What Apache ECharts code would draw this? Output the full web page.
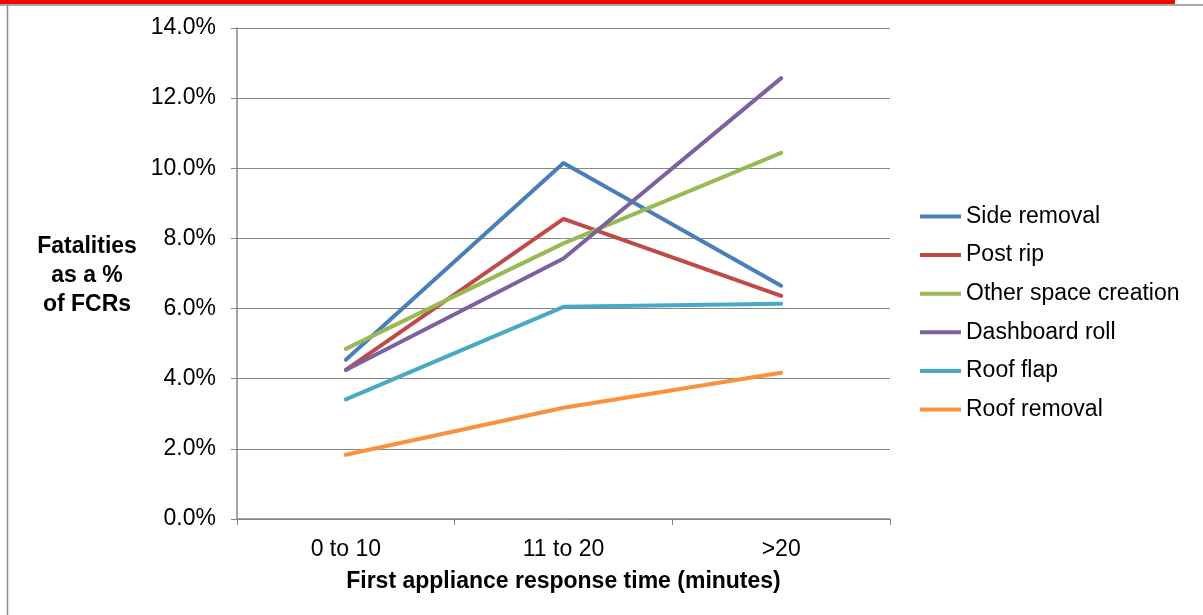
<!DOCTYPE html>
<html>
<head>
<meta charset="utf-8">
<script src="https://cdn.jsdelivr.net/npm/echarts@6/dist/echarts.min.js"></script>
<style>
html,body{margin:0;padding:0;background:#fff;}
#chart{width:1203px;height:615px;}
</style>
</head>
<body>
<div id="chart"></div>
<script>
const categories = ['0 to 10', '11 to 20', '>20'];
const seriesNames = ['Side removal', 'Post rip', 'Other space creation', 'Dashboard roll', 'Roof flap', 'Roof removal'];
const sideRemoval = [4.54, 10.15, 6.65];
const postRip = [4.25, 8.56, 6.36];
const otherSpaceCreation = [4.85, 7.86, 10.44];
const dashboardRoll = [4.25, 7.43, 12.57];
const roofFlap = [3.41, 6.05, 6.14];
const roofRemoval = [1.83, 3.17, 4.17];
const yTicks = [0, 2, 4, 6, 8, 10, 12, 14];
const colors = ['#4A7EBB', '#BE4B48', '#98B954', '#7D60A0', '#46AAC5', '#F69240'];
const allValues = [sideRemoval, postRip, otherSpaceCreation, dashboardRoll, roofFlap, roofRemoval];

const font = '"Liberation Sans", Arial, sans-serif';
const fs = 23;
const chart = echarts.init(document.getElementById('chart'), null, {renderer: 'canvas'});

const option = {
  animation: false,
  backgroundColor: '#ffffff',
  color: colors,
  textStyle: {fontFamily: font},
  grid: {left: 237, right: 313, top: 28, bottom: 96, containLabel: false},
  legend: {
    orient: 'vertical',
    left: 915,
    top: 200,
    icon: 'rect',
    itemWidth: 41,
    itemHeight: 4,
    itemGap: 15.6,
    textStyle: {fontFamily: font, fontSize: fs, color: '#000', lineHeight: 23},
    data: seriesNames
  },
  xAxis: {
    type: 'category',
    data: categories,
    boundaryGap: true,
    axisLine: {lineStyle: {color: '#868686', width: 1.5}},
    axisTick: {show: true, length: 6, lineStyle: {color: '#868686'}},
    axisLabel: {fontFamily: font, fontSize: fs, color: '#000', margin: 19},
    name: 'First appliance response time (minutes)',
    nameLocation: 'middle',
    nameGap: 51,
    nameTextStyle: {fontFamily: font, fontSize: fs, fontWeight: 'bold', color: '#000'}
  },
  yAxis: {
    type: 'value',
    min: yTicks[0],
    max: yTicks[yTicks.length - 1],
    interval: 2,
    axisLine: {show: true, lineStyle: {color: '#868686', width: 1.5}},
    axisTick: {show: true, inside: false, length: 6, lineStyle: {color: '#868686'}},
    splitLine: {show: true, lineStyle: {color: '#868686', width: 1}},
    axisLabel: {
      fontFamily: font, fontSize: fs, color: '#000', margin: 21,
      formatter: v => v.toFixed(1) + '%'
    }
  },
  graphic: [
    {type: 'rect', left: 0, top: 0, shape: {width: 1175, height: 4}, style: {fill: '#ff0000'}, z: 10},
    {type: 'line', shape: {x1: 0, y1: 5, x2: 1203, y2: 5}, style: {stroke: '#8c8c8c', lineWidth: 1.5}, z: 10},
    {type: 'line', shape: {x1: 7.5, y1: 5, x2: 7.5, y2: 615}, style: {stroke: '#8c8c8c', lineWidth: 1.5}, z: 10},
    {
      type: 'text', x: 87, y: 232, z: 10,
      style: {
        text: 'Fatalities\nas a %\nof FCRs',
        fontFamily: font, fontSize: fs, fontWeight: 'bold', fill: '#000',
        align: 'center', verticalAlign: 'top', lineHeight: 29
      }
    }
  ],
  series: seriesNames.map((name, i) => ({
    name: name,
    type: 'line',
    data: allValues[i],
    symbol: 'none',
    lineStyle: {width: 4, color: colors[i], cap: 'round', join: 'round'},
    itemStyle: {color: colors[i]}
  }))
};
chart.setOption(option);
</script>
</body>
</html>
